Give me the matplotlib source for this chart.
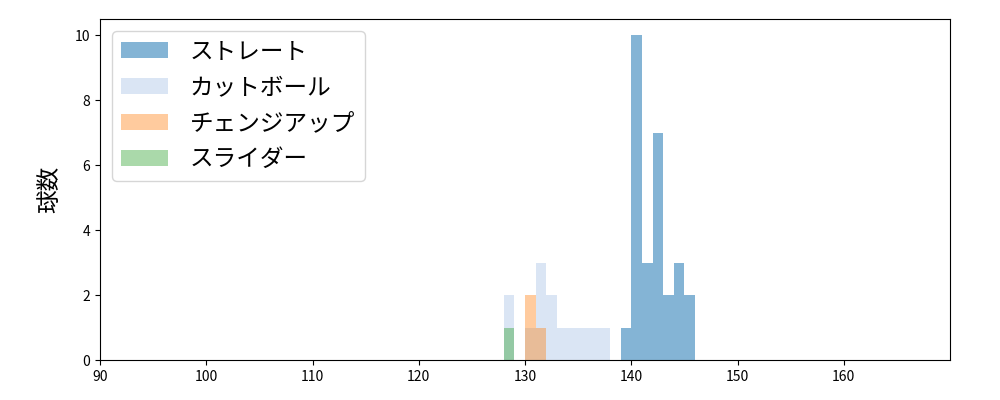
import matplotlib
matplotlib.use('Agg')
import matplotlib.pyplot as plt
import numpy as np

plt.rcParams['font.family'] = ['Noto Sans CJK JP', 'DejaVu Sans']

# 球種ごとのヒストグラム（左端の球速, 球数）
pitch_names = ['ストレート', 'カットボール', 'チェンジアップ', 'スライダー']
straight_edges = [139, 140, 141, 142, 143, 144, 145]
straight_counts = [1, 10, 3, 7, 2, 3, 2]
cutter_edges = [128, 129, 130, 131, 132, 133, 134, 135, 136, 137]
cutter_counts = [2, 0, 1, 3, 2, 1, 1, 1, 1, 1]
change_edges = [130, 131]
change_counts = [2, 1]
slider_edges = [128]
slider_counts = [1]

colors = ['#1f77b4', '#aec7e8', '#ff7f0e', '#2ca02c']
alphas = [0.55, 0.45, 0.4, 0.4]

fig = plt.figure(figsize=(10, 4), dpi=100)
ax = fig.add_axes([0.1, 0.1, 0.85, 0.8525])

data = [(straight_edges, straight_counts), (cutter_edges, cutter_counts),
        (change_edges, change_counts), (slider_edges, slider_counts)]
for (edges, counts), name, c, a in zip(data, pitch_names, colors, alphas):
    bins = list(edges) + [edges[-1] + 1]
    ax.hist(edges, bins=bins, weights=counts, color=c, alpha=a, label=name)

ax.set_xlim(90, 170)
ax.set_ylim(0, 10.5)
ax.set_xticks(np.arange(90, 161, 10))
ax.set_yticks(np.arange(0, 11, 2))
ax.set_ylabel('球数', fontsize=17, labelpad=10)
ax.legend(loc='upper left', fontsize=17, handlelength=2.0,
          labelspacing=0.55, handletextpad=0.9)

fig.savefig('out.png')
